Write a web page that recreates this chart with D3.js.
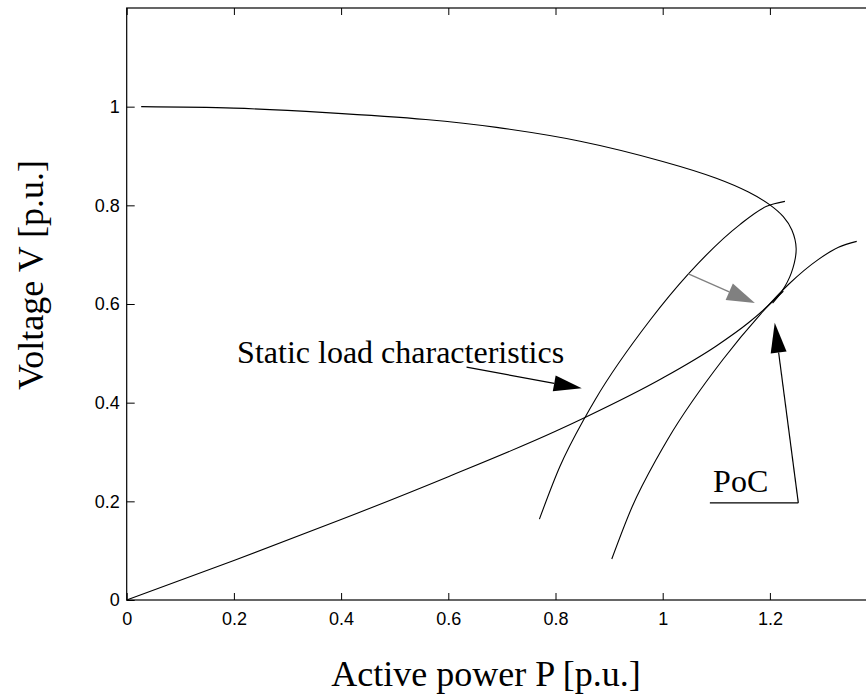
<!DOCTYPE html>
<html>
<head>
<meta charset="utf-8">
<script src="https://cdn.jsdelivr.net/npm/d3@7"></script>
<style>
  body { margin: 0; background: #fff; }
  svg { display: block; }
</style>
</head>
<body>
<div id="chart"></div>
<script>
const width = 866;
const height = 700;

// axis ticks
const xTicks = [0, 0.2, 0.4, 0.6, 0.8, 1, 1.2];
const yTicks = [0, 0.2, 0.4, 0.6, 0.8, 1];

// PV (nose) curve: [P, V]
const noseCurve = [
    [0.027, 1.0], [0.2, 0.997], [0.372, 0.988], [0.558, 0.974], [0.69, 0.958],
    [0.846, 0.930], [1.0, 0.889], [1.1, 0.855], [1.16, 0.827], [1.2, 0.801],
    [1.225, 0.777], [1.241, 0.750], [1.249, 0.712], [1.24, 0.663], [1.222, 0.625],
    [1.205, 0.602]
];

// static load characteristic
const loadChar = [
    [0, 0], [0.2, 0.08], [0.4, 0.163], [0.6, 0.25], [0.8, 0.342], [0.855, 0.37],
    [1.0, 0.45], [1.1, 0.515], [1.16, 0.562], [1.2, 0.6], [1.225, 0.626]
];

// network characteristic before / after
const netBefore = [
    [0.77, 0.164], [0.808, 0.27], [0.855, 0.37], [0.874, 0.406], [0.977, 0.568],
    [1.048, 0.661], [1.144, 0.761], [1.194, 0.798], [1.228, 0.808]
];
const netAfter = [
    [0.905, 0.083], [0.943, 0.189], [0.99, 0.289], [1.009, 0.325], [1.112, 0.487],
    [1.183, 0.580], [1.235, 0.640], [1.29, 0.690], [1.328, 0.715], [1.362, 0.727]
];

// annotations (data coordinates)
const shiftArrow = [[1.048, 0.661], [1.172, 0.602]];
const loadArrow = [[0.634, 0.472], [0.849, 0.429]];
const pocLine = [[1.088, 0.197], [1.253, 0.197]];
const pocArrow = [[1.253, 0.197], [1.209, 0.562]];
const loadLabel = { text: "Static load characteristics", at: [0.206, 0.481] };
const pocLabel = { text: "PoC", at: [1.094, 0.218] };

const margin = { top: 8, left: 126.7, bottom: 100 };

const xScale = d3.scaleLinear().domain([0, 1.4]).range([margin.left, margin.left + 536 * 1.4]);
const yScale = d3.scaleLinear().domain([0, 1.2]).range([height - margin.bottom, margin.top]);

const svg = d3.select("#chart").append("svg").attr("width", width).attr("height", height);

// frame
svg.append("rect")
    .attr("x", xScale(0)).attr("y", yScale(1.2))
    .attr("width", xScale(1.4) - xScale(0)).attr("height", yScale(0) - yScale(1.2))
    .attr("fill", "none").attr("stroke", "#000").attr("stroke-width", 1.2);

const xAxis = d3.axisBottom(xScale).tickValues(xTicks).tickSizeInner(-7).tickSizeOuter(0)
    .tickPadding(12).tickFormat(d3.format("~g"));
const yAxis = d3.axisLeft(yScale).tickValues(yTicks).tickSizeInner(-8).tickSizeOuter(0)
    .tickPadding(7).tickFormat(d3.format("~g"));
const xTop = d3.axisTop(xScale).tickValues(xTicks).tickSizeInner(-7).tickSizeOuter(0).tickFormat("");

function styleAxis(g) {
    g.select(".domain").remove();
    g.selectAll("line").attr("stroke", "#000").attr("stroke-width", 1);
    g.selectAll("text").attr("fill", "#000")
        .style("font-family", "'Liberation Sans', Arial, sans-serif").style("font-size", "18px");
}

svg.append("g").attr("transform", `translate(0,${yScale(0)})`).call(xAxis).call(styleAxis);
svg.append("g").attr("transform", `translate(${xScale(0)},0)`).call(yAxis).call(styleAxis);
svg.append("g").attr("transform", `translate(0,${yScale(1.2)})`).call(xTop).call(styleAxis);

// curves
const line = d3.line().x(d => xScale(d[0])).y(d => yScale(d[1])).curve(d3.curveCatmullRom);
const lineX = d3.line().x(d => xScale(d[0])).y(d => yScale(d[1])).curve(d3.curveMonotoneX);

svg.append("path").datum(noseCurve).attr("d", line)
    .attr("fill", "none").attr("stroke", "#000").attr("stroke-width", 1.1);
[loadChar, netBefore, netAfter].forEach(c => {
    svg.append("path").datum(c).attr("d", lineX)
        .attr("fill", "none").attr("stroke", "#000").attr("stroke-width", 1.1);
});

// arrows
function arrow(pts, color, len, half, sw) {
    const x0 = xScale(pts[0][0]), y0 = yScale(pts[0][1]);
    const x1 = xScale(pts[1][0]), y1 = yScale(pts[1][1]);
    const dx = x1 - x0, dy = y1 - y0, L = Math.hypot(dx, dy);
    const ux = dx / L, uy = dy / L;
    const bx = x1 - ux * len, by = y1 - uy * len;
    svg.append("line").attr("x1", x0).attr("y1", y0).attr("x2", bx).attr("y2", by)
        .attr("stroke", color).attr("stroke-width", sw);
    svg.append("path")
        .attr("d", `M${x1},${y1}L${bx - uy * half},${by + ux * half}L${bx + uy * half},${by - ux * half}Z`)
        .attr("fill", color);
}

arrow(shiftArrow, "#808080", 28, 9, 1.3);
arrow(loadArrow, "#000", 28, 8, 1.2);
arrow(pocArrow, "#000", 30, 8, 1.2);

svg.append("line")
    .attr("x1", xScale(pocLine[0][0])).attr("y1", yScale(pocLine[0][1]))
    .attr("x2", xScale(pocLine[1][0])).attr("y2", yScale(pocLine[1][1]))
    .attr("stroke", "#000").attr("stroke-width", 1.2);

const serif = "'Liberation Serif', 'Times New Roman', serif";

[loadLabel, pocLabel].forEach(l => {
    svg.append("text").attr("x", xScale(l.at[0])).attr("y", yScale(l.at[1]))
        .style("font-family", serif).style("font-size", "32px").text(l.text);
});

// axis titles
svg.append("text").attr("x", 486).attr("y", 686).attr("text-anchor", "middle")
    .style("font-family", serif).style("font-size", "36px").text("Active power P [p.u.]");
svg.append("text").attr("transform", "translate(43,390) rotate(-90)")
    .style("font-family", serif).style("font-size", "36px").text("Voltage V [p.u.]");
</script>
</body>
</html>
